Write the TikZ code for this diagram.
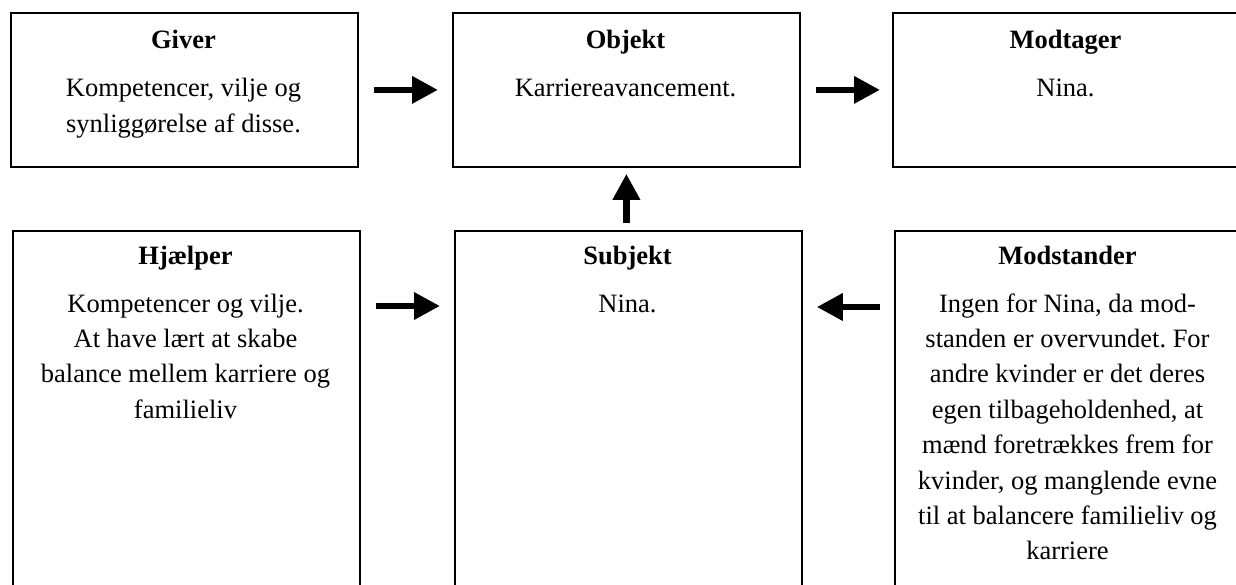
\documentclass[tikz,border=0pt]{standalone}
\usepackage{fontspec}
\setmainfont{Liberation Serif}
\frenchspacing
\usetikzlibrary{arrows.meta}
\begin{document}
\begin{tikzpicture}[x=1pt,y=-1pt,
  box/.style={draw=black, line width=1.8pt, minimum width=347pt, inner sep=0pt, anchor=north west},
  topbox/.style={box, minimum height=154pt},
  lowbox/.style={box, minimum height=420pt},
  head/.style={font=\fontsize{26.5}{35.4}\selectfont\bfseries, anchor=base, inner sep=0pt},
  % base anchor of a multi-line node sits on its last line
  body/.style={font=\fontsize{26.5}{35.4}\selectfont, align=center, anchor=base, inner sep=0pt},
  arr/.style={line width=6.5pt, -{Triangle[length=26pt,width=26pt]}}]
\useasboundingbox (0,0) rectangle (1236,585);
\clip (0,0) rectangle (1236,585);

% upper row
\node[topbox] (giver)    at (10,12)  {};
\node[topbox] (objekt)   at (452,12) {};
\node[topbox] (modtager) at (892,12) {};
% lower row
\node[lowbox] (hjaelper)   at (12,230)  {};
\node[lowbox] (subjekt)    at (454,230) {};
\node[lowbox] (modstander) at (894,230) {};

% texts
\node[head] (giverT) at (183.5,49) {Giver};
\node[body] (giverB) at (183.5,132.4) {Kompetencer, vilje og\\synliggørelse af disse.};
\node[head] (objektT) at (625.5,49) {Objekt};
\node[body] (objektB) at (625.5,97) {Karriereavancement.};
\node[head] (modtagerT) at (1065.5,49) {Modtager};
\node[body] (modtagerB) at (1065.5,97) {Nina.};

\node[head] (hjaelperT) at (185.5,265) {Hjælper};
\node[body] (hjaelperB) at (185.5,418.2) {Kompetencer og vilje.\\At have lært at skabe\\balance mellem karriere og\\familieliv};
\node[head] (subjektT) at (627.5,265) {Subjekt};
\node[body] (subjektB) at (627.5,312) {Nina.};
\node[head] (modstanderT) at (1067.5,265) {Modstander};
\node[body] (modstanderB) at (1067.5,559.8) {Ingen for Nina, da mod-\\standen er overvundet. For\\andre kvinder er det deres\\egen tilbageholdenhed, at\\mænd foretrækkes frem for\\kvinder, og manglende evne\\til at balancere familieliv og\\karriere};

% connectors
\draw[arr, shorten <=15pt, shorten >=14pt] (giver) -- (objekt);
\draw[arr, shorten <=15pt, shorten >=12pt] (objekt) -- (modtager);
\draw[arr, shorten <=15pt, shorten >=14pt] ([yshift=-76pt]hjaelper.north east) -- ([yshift=-76pt]subjekt.north west);
\draw[arr, shorten <=14pt, shorten >=14pt] ([yshift=-77pt]modstander.north west) -- ([yshift=-77pt]subjekt.north east);
\draw[arr, shorten <=7pt, shorten >=6pt] (subjekt.north -| objekt.south) -- (objekt.south);
\end{tikzpicture}
\end{document}
